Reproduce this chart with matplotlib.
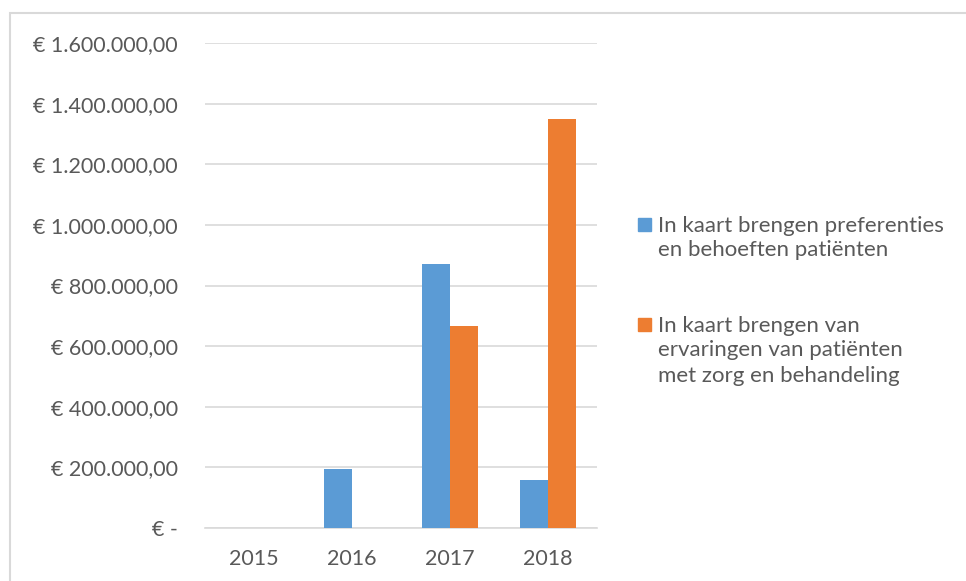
import numpy as np
import matplotlib
matplotlib.use("Agg")
import matplotlib.pyplot as plt
from matplotlib.patches import Rectangle

years = ["2015", "2016", "2017", "2018"]
preferenties = [0, 195000, 871000, 158000]
ervaringen = [0, 0, 667000, 1349000]
series_labels = [
    "In kaart brengen preferenties\nen behoeften patiënten",
    "In kaart brengen van\nervaringen van patiënten\nmet zorg en behandeling",
]
yticks = [0, 200000, 400000, 600000, 800000, 1000000, 1200000, 1400000, 1600000]

BLUE = "#5B9BD5"
ORANGE = "#ED7D31"
GREY_TXT = "#595959"
GRID = "#D9D9D9"

plt.rcParams["font.family"] = ["Lato", "DejaVu Sans"]


def euro(v):
    if v == 0:
        return "€ -"
    s = f"{v:,.2f}"  # 1,600,000.00
    s = s.replace(",", "X").replace(".", ",").replace("X", ".")
    return "€ " + s


fig = plt.figure(figsize=(9.66, 5.81), dpi=100)
ax = fig.add_axes([205 / 966, 53 / 581, 392 / 966, 485 / 581])

x = np.arange(len(years))
w = 0.285
ax.bar(x - w / 2, preferenties, w, color=BLUE, zorder=3)
ax.bar(x + w / 2, ervaringen, w, color=ORANGE, zorder=3)

ax.set_xlim(-0.5, 3.5)
ax.set_ylim(0, 1600000)
ax.set_yticks(yticks)
ax.set_yticklabels([euro(v) for v in yticks])
ax.set_xticks(x)
ax.set_xticklabels(years)
ax.tick_params(axis="both", length=0, labelsize=15.5, colors=GREY_TXT)
ax.tick_params(axis="y", pad=19.5)
ax.tick_params(axis="x", pad=15)
ax.yaxis.grid(True, color=GRID, linewidth=1.2, zorder=0)

for side in ["top", "right", "left"]:
    ax.spines[side].set_visible(False)
ax.spines["bottom"].set_color(GRID)
ax.spines["bottom"].set_linewidth(1.2)

# kader rond de grafiek
fig.patches.append(Rectangle((10 / 966, -0.2), 1.2, 1.2 - 13 / 581,
                             transform=fig.transFigure, fill=False,
                             edgecolor=GRID, linewidth=1.5))

# legenda met de hand, zodat het blokje bij de eerste regel staat
colors = [BLUE, ORANGE]
first_line_px = [224, 324]
line_px = 25
for lab, col, y0 in zip(series_labels, colors, first_line_px):
    fig.patches.append(Rectangle((638 / 966, 1 - (y0 + 6.5) / 581), 13 / 966, 13 / 581,
                                 transform=fig.transFigure, color=col))
    for i, line in enumerate(lab.split("\n")):
        fig.text(658 / 966, 1 - (y0 + 7.5 + i * line_px) / 581, line,
                 fontsize=16, color=GREY_TXT, va="baseline", ha="left")

fig.savefig("out.png", dpi=100)
